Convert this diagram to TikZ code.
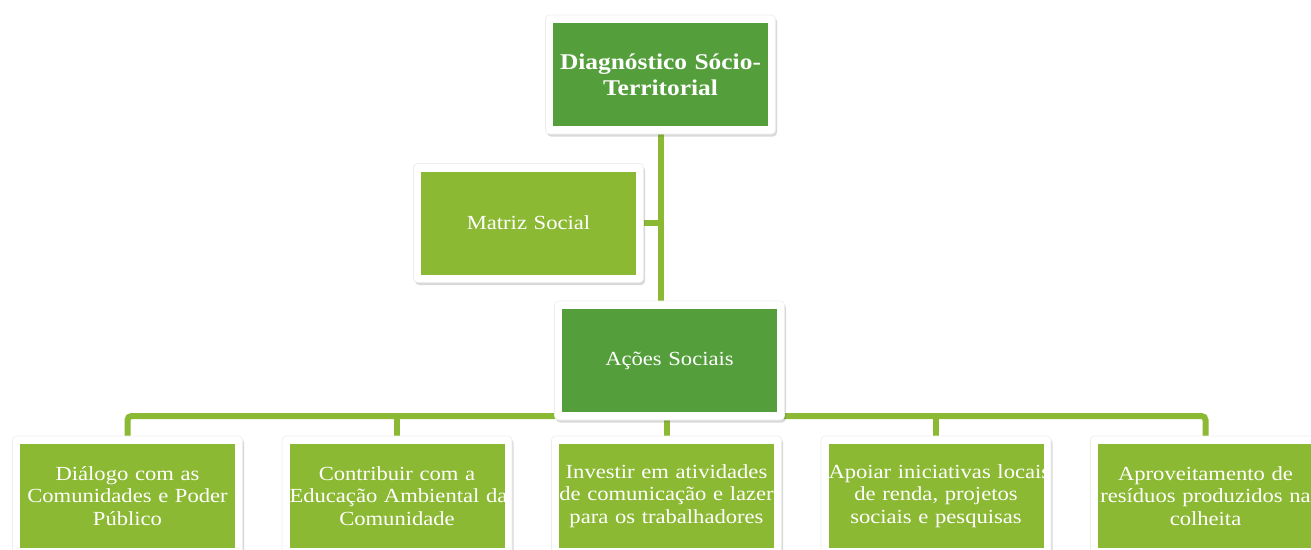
\documentclass[tikz,border=0pt]{standalone}
\usepackage{fontspec}
\setmainfont{Liberation Serif}[FakeStretch=1.13]
\usetikzlibrary{shadows,backgrounds}
\definecolor{dkgreen}{RGB}{84,158,59}
\definecolor{ltgreen}{RGB}{140,185,51}
\begin{document}
\begin{tikzpicture}[x=1pt,y=-1pt,
  frame/.style={fill=white, draw=black!7, line width=0.6pt, rounded corners=4pt, minimum width=230pt, minimum height=119pt, inner sep=0pt,
    drop shadow={shadow xshift=1.5pt, shadow yshift=-2.5pt, opacity=0.25, fill=black!60}},
  box/.style={inner sep=0pt, text width=215pt, align=center, minimum height=103pt, text=white,
    font=\fontsize{20}{22.5}\selectfont,
    execute at begin node={\hbadness=10000\hfuzz=200pt}},
  dkbox/.style={box, fill=dkgreen},
  ltbox/.style={box, fill=ltgreen},
  conn/.style={draw=ltgreen, line width=6pt}]
\useasboundingbox (0,0) rectangle (1311,549);
% top
\node[frame] (ftop) at (660.5,74.5) {};
\node[dkbox, font=\bfseries\fontsize{22.5}{26}\selectfont] (top) at (660.5,74.5) {\mbox{Diagnóstico Sócio-}\\\mbox{Territorial}};
% matriz
\node[frame] (fmat) at (528.5,223) {};
\node[ltbox] (mat) at (528.5,223) {Matriz Social};
% acoes
\node[frame] (fac) at (669.5,360.5) {};
\node[dkbox] (ac) at (669.5,360.5) {Ações Sociais};
% bottom row
\foreach \i/\x/\t in {1/127.5/{\mbox{Diálogo com as}\\\mbox{Comunidades e Poder}\\\mbox{Público}},
                       2/397/{\mbox{Contribuir com a}\\\mbox{Educação Ambiental da}\\\mbox{Comunidade}},
                       3/666.5/{\mbox{Investir em atividades}\\\mbox{de comunicação e lazer}\\\mbox{para os trabalhadores}},
                       4/936/{\mbox{Apoiar iniciativas locais}\\\mbox{de renda, projetos}\\\mbox{sociais e pesquisas}},
                       5/1205.5/{\mbox{Aproveitamento de}\\\mbox{resíduos produzidos na}\\\mbox{colheita}}}{
  \node[frame, minimum height=120pt] (fb\i) at (\x,496) {};
  \node[ltbox, minimum height=104pt] (b\i) at (\x,496) {\t};
}
\coordinate (bus) at (666.5,416);
\begin{scope}[on background layer]
  \draw[conn] (top.south) -- (top.south |- ac.north);
  \draw[conn] (mat.east) -- (mat.east -| top.south);
  \draw[conn, rounded corners=4pt] (b1.north) |- (bus) -| (b5.north);
  \draw[conn] (b2.north) -- (b2.north |- bus);
  \draw[conn] (b4.north) -- (b4.north |- bus);
  \draw[conn] (b3.north |- ac.south) -- (b3.north);
\end{scope}
\end{tikzpicture}
\end{document}
